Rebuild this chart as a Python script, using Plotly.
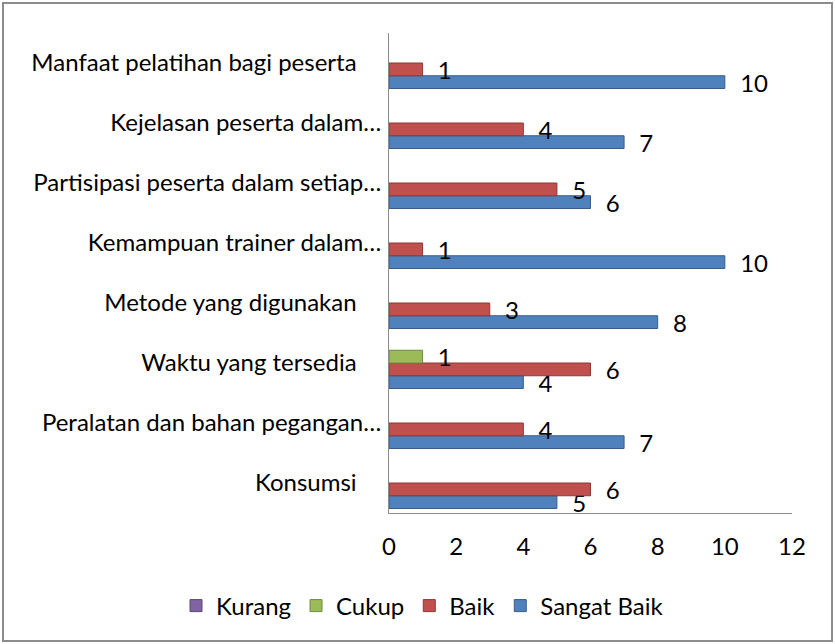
import plotly.graph_objects as go

# categories, bottom to top (Excel order); trailing space kept as in the source sheet
categories = [
    "Konsumsi ",
    "Peralatan dan bahan pegangan…",
    "Waktu yang tersedia ",
    "Metode yang digunakan ",
    "Kemampuan trainer dalam…",
    "Partisipasi peserta dalam setiap…",
    "Kejelasan peserta dalam…",
    "Manfaat pelatihan bagi peserta ",
]

sangat_baik = [5, 7, 4, 8, 10, 6, 7, 10]
baik = [6, 4, 6, 3, 1, 5, 4, 1]
cukup = [None, None, 1, None, None, None, None, None]
kurang = [None, None, None, None, None, None, None, None]

x_ticks = [0, 2, 4, 6, 8, 10, 12]

FONT = "Lato"
SIZE = 24

series = [
    ("Sangat Baik", sangat_baik, "#4F81BD", "#385D8A"),
    ("Baik", baik, "#C0504D", "#8C3836"),
    ("Cukup", cukup, "#9BBB59", "#71893F"),
    ("Kurang", kurang, "#8064A2", "#5C4776"),
]


def pad(label):
    # svg drops trailing blanks, so widen them with non-breaking spaces
    if label.endswith(" "):
        return label.rstrip() + "\u00a0" * 4
    return label


y_labels = [pad(c) for c in categories]

fig = go.Figure()

for name, vals, color, edge in series:
    fig.add_trace(go.Bar(
        y=y_labels,
        x=vals,
        name=name,
        orientation='h',
        marker=dict(color=color, line=dict(color=edge, width=1)),
        texttemplate="\u00a0\u00a0%{x}",
        textposition="outside",
        constraintext="none",
        cliponaxis=False,
        textfont=dict(family=FONT, size=SIZE, color="black"),
    ))

fig.update_layout(
    barmode='group',
    bargap=0.15,
    bargroupgap=0,
    width=835,
    height=644,
    margin=dict(l=389, r=43, t=33, b=131, autoexpand=False),
    paper_bgcolor="white",
    plot_bgcolor="white",
    font=dict(family=FONT, size=SIZE, color="black"),
    showlegend=True,
    legend=dict(
        orientation="h",
        traceorder="reversed",
        x=(176 - 389) / 403, y=(513 - 606) / 480,
        xanchor="left", yanchor="middle",
        font=dict(family=FONT, size=SIZE),
        bgcolor="rgba(0,0,0,0)",
        itemwidth=30,
        tracegroupgap=0,
    ),
    xaxis=dict(
        range=[0, 12],
        tickvals=x_ticks,
        showgrid=False,
        zeroline=False,
        showline=True,
        linecolor="#8C8C8C",
        linewidth=1,
        ticks="",
        ticklabelstandoff=12,
        fixedrange=True,
    ),
    yaxis=dict(
        showgrid=False,
        showline=True,
        linecolor="#8C8C8C",
        linewidth=1,
        ticks="",
        ticklabelstandoff=2,
    ),
)

# outer chart frame
fig.add_shape(
    type="rect", xref="paper", yref="paper",
    x0=(3 - 389) / 403, x1=(832 - 389) / 403,
    y0=(513 - 641) / 480, y1=(513 - 3) / 480,
    line=dict(color="#8C8C8C", width=2),
    layer="below",
)

fig.write_html(
    "out.html",
    config={"displayModeBar": False},
    post_script="document.body.style.margin='0px';",
)
